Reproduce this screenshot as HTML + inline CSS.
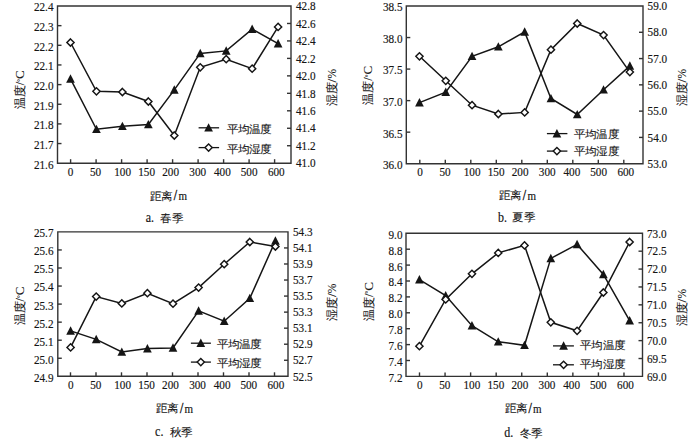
<!DOCTYPE html>
<html><head><meta charset="utf-8"><style>
html,body{margin:0;padding:0;background:#fff;}
body{width:700px;height:439px;overflow:hidden;}
svg{display:block;}
.t{font-family:"Liberation Serif", serif;font-size:11.2px;fill:#151515;stroke:#151515;stroke-width:0.15px;}
.c{font-family:"Liberation Serif", serif;font-size:11.6px;fill:#151515;stroke:#151515;stroke-width:0.1px;}
.u{font-size:12.5px;}
.l{font-size:11.8px;}
</style></head><body>
<svg width="700" height="439" viewBox="0 0 700 439">
<path d="M57.5,6 L291,6 L291,163.2 L57.5,163.2 Z" fill="none" stroke="#333" stroke-width="1.4"/>
<text transform="translate(53.50,168.60) scale(1,1.15)" text-anchor="end" class="t">21.6</text>
<line x1="57.5" y1="143.55" x2="61.5" y2="143.55" stroke="#333" stroke-width="1.4"/>
<text transform="translate(53.50,148.95) scale(1,1.15)" text-anchor="end" class="t">21.7</text>
<line x1="57.5" y1="123.90" x2="61.5" y2="123.90" stroke="#333" stroke-width="1.4"/>
<text transform="translate(53.50,129.30) scale(1,1.15)" text-anchor="end" class="t">21.8</text>
<line x1="57.5" y1="104.25" x2="61.5" y2="104.25" stroke="#333" stroke-width="1.4"/>
<text transform="translate(53.50,109.65) scale(1,1.15)" text-anchor="end" class="t">21.9</text>
<line x1="57.5" y1="84.60" x2="61.5" y2="84.60" stroke="#333" stroke-width="1.4"/>
<text transform="translate(53.50,90.00) scale(1,1.15)" text-anchor="end" class="t">22.0</text>
<line x1="57.5" y1="64.95" x2="61.5" y2="64.95" stroke="#333" stroke-width="1.4"/>
<text transform="translate(53.50,70.35) scale(1,1.15)" text-anchor="end" class="t">22.1</text>
<line x1="57.5" y1="45.30" x2="61.5" y2="45.30" stroke="#333" stroke-width="1.4"/>
<text transform="translate(53.50,50.70) scale(1,1.15)" text-anchor="end" class="t">22.2</text>
<line x1="57.5" y1="25.65" x2="61.5" y2="25.65" stroke="#333" stroke-width="1.4"/>
<text transform="translate(53.50,31.05) scale(1,1.15)" text-anchor="end" class="t">22.3</text>
<text transform="translate(53.50,11.40) scale(1,1.15)" text-anchor="end" class="t">22.4</text>
<text transform="translate(296.00,167.40) scale(1,1.15)" class="t">41.0</text>
<line x1="287" y1="145.73" x2="291" y2="145.73" stroke="#333" stroke-width="1.4"/>
<text transform="translate(296.00,149.93) scale(1,1.15)" class="t">41.2</text>
<line x1="287" y1="128.27" x2="291" y2="128.27" stroke="#333" stroke-width="1.4"/>
<text transform="translate(296.00,132.47) scale(1,1.15)" class="t">41.4</text>
<line x1="287" y1="110.80" x2="291" y2="110.80" stroke="#333" stroke-width="1.4"/>
<text transform="translate(296.00,115.00) scale(1,1.15)" class="t">41.6</text>
<line x1="287" y1="93.33" x2="291" y2="93.33" stroke="#333" stroke-width="1.4"/>
<text transform="translate(296.00,97.53) scale(1,1.15)" class="t">41.8</text>
<line x1="287" y1="75.87" x2="291" y2="75.87" stroke="#333" stroke-width="1.4"/>
<text transform="translate(296.00,80.07) scale(1,1.15)" class="t">42.0</text>
<line x1="287" y1="58.40" x2="291" y2="58.40" stroke="#333" stroke-width="1.4"/>
<text transform="translate(296.00,62.60) scale(1,1.15)" class="t">42.2</text>
<line x1="287" y1="40.93" x2="291" y2="40.93" stroke="#333" stroke-width="1.4"/>
<text transform="translate(296.00,45.13) scale(1,1.15)" class="t">42.4</text>
<line x1="287" y1="23.47" x2="291" y2="23.47" stroke="#333" stroke-width="1.4"/>
<text transform="translate(296.00,27.67) scale(1,1.15)" class="t">42.6</text>
<text transform="translate(296.00,10.20) scale(1,1.15)" class="t">42.8</text>
<line x1="70.60" y1="163.2" x2="70.60" y2="159.2" stroke="#333" stroke-width="1.4"/>
<line x1="96.10" y1="163.2" x2="96.10" y2="159.2" stroke="#333" stroke-width="1.4"/>
<line x1="121.60" y1="163.2" x2="121.60" y2="159.2" stroke="#333" stroke-width="1.4"/>
<line x1="147.10" y1="163.2" x2="147.10" y2="159.2" stroke="#333" stroke-width="1.4"/>
<line x1="172.60" y1="163.2" x2="172.60" y2="159.2" stroke="#333" stroke-width="1.4"/>
<line x1="198.10" y1="163.2" x2="198.10" y2="159.2" stroke="#333" stroke-width="1.4"/>
<line x1="223.60" y1="163.2" x2="223.60" y2="159.2" stroke="#333" stroke-width="1.4"/>
<line x1="249.10" y1="163.2" x2="249.10" y2="159.2" stroke="#333" stroke-width="1.4"/>
<line x1="274.60" y1="163.2" x2="274.60" y2="159.2" stroke="#333" stroke-width="1.4"/>
<text transform="translate(70.50,175.70) scale(1,1.15)" text-anchor="middle" class="t">0</text>
<text transform="translate(95.60,175.70) scale(1,1.15)" text-anchor="middle" class="t">50</text>
<text transform="translate(122.60,175.70) scale(1,1.15)" text-anchor="middle" class="t">100</text>
<text transform="translate(146.60,175.70) scale(1,1.15)" text-anchor="middle" class="t">150</text>
<text transform="translate(170.60,175.70) scale(1,1.15)" text-anchor="middle" class="t">200</text>
<text transform="translate(197.70,175.70) scale(1,1.15)" text-anchor="middle" class="t">300</text>
<text transform="translate(222.40,175.70) scale(1,1.15)" text-anchor="middle" class="t">400</text>
<text transform="translate(249.10,175.70) scale(1,1.15)" text-anchor="middle" class="t">500</text>
<text transform="translate(276.30,175.70) scale(1,1.15)" text-anchor="middle" class="t">600</text>
<polyline points="70.50,78.90 96.45,129.30 122.40,126.30 148.35,124.50 174.30,89.90 200.25,53.40 226.20,50.90 252.15,29.20 278.10,43.70" fill="none" stroke="#151515" stroke-width="1.5" stroke-linejoin="miter"/>
<polyline points="70.50,42.50 96.45,91.30 122.40,92.00 148.35,101.50 174.30,135.50 200.25,67.30 226.20,59.20 252.15,68.70 278.10,26.90" fill="none" stroke="#151515" stroke-width="1.5" stroke-linejoin="miter"/>
<path d="M66.15,82.70 L70.50,74.30 L74.85,82.70 Z" fill="#151515"/>
<path d="M92.10,133.10 L96.45,124.70 L100.80,133.10 Z" fill="#151515"/>
<path d="M118.05,130.10 L122.40,121.70 L126.75,130.10 Z" fill="#151515"/>
<path d="M144.00,128.30 L148.35,119.90 L152.70,128.30 Z" fill="#151515"/>
<path d="M169.95,93.70 L174.30,85.30 L178.65,93.70 Z" fill="#151515"/>
<path d="M195.90,57.20 L200.25,48.80 L204.60,57.20 Z" fill="#151515"/>
<path d="M221.85,54.70 L226.20,46.30 L230.55,54.70 Z" fill="#151515"/>
<path d="M247.80,33.00 L252.15,24.60 L256.50,33.00 Z" fill="#151515"/>
<path d="M273.75,47.50 L278.10,39.10 L282.45,47.50 Z" fill="#151515"/>
<path d="M70.50,38.90 L74.10,42.50 L70.50,46.10 L66.90,42.50 Z" fill="#fff" stroke="#151515" stroke-width="1.45"/>
<path d="M96.45,87.70 L100.05,91.30 L96.45,94.90 L92.85,91.30 Z" fill="#fff" stroke="#151515" stroke-width="1.45"/>
<path d="M122.40,88.40 L126.00,92.00 L122.40,95.60 L118.80,92.00 Z" fill="#fff" stroke="#151515" stroke-width="1.45"/>
<path d="M148.35,97.90 L151.95,101.50 L148.35,105.10 L144.75,101.50 Z" fill="#fff" stroke="#151515" stroke-width="1.45"/>
<path d="M174.30,131.90 L177.90,135.50 L174.30,139.10 L170.70,135.50 Z" fill="#fff" stroke="#151515" stroke-width="1.45"/>
<path d="M200.25,63.70 L203.85,67.30 L200.25,70.90 L196.65,67.30 Z" fill="#fff" stroke="#151515" stroke-width="1.45"/>
<path d="M226.20,55.60 L229.80,59.20 L226.20,62.80 L222.60,59.20 Z" fill="#fff" stroke="#151515" stroke-width="1.45"/>
<path d="M252.15,65.10 L255.75,68.70 L252.15,72.30 L248.55,68.70 Z" fill="#fff" stroke="#151515" stroke-width="1.45"/>
<path d="M278.10,23.30 L281.70,26.90 L278.10,30.50 L274.50,26.90 Z" fill="#fff" stroke="#151515" stroke-width="1.45"/>
<line x1="198.6" y1="127.8" x2="219.1" y2="127.8" stroke="#151515" stroke-width="1.3"/>
<path d="M204.25,131.60 L208.60,123.20 L212.95,131.60 Z" fill="#151515"/>
<line x1="198.6" y1="147.6" x2="219.1" y2="147.6" stroke="#151515" stroke-width="1.3"/>
<path d="M208.60,144.00 L212.20,147.60 L208.60,151.20 L205.00,147.60 Z" fill="#fff" stroke="#151515" stroke-width="1.45"/>
<text transform="translate(226.50,132.97) scale(1,0.95)" class="c">平均温度</text>
<text transform="translate(226.50,152.58) scale(1,0.95)" class="c">平均湿度</text>
<text transform="translate(24.2,89.8) rotate(-90)" text-anchor="middle" class="c">温度<tspan class="u">/</tspan><tspan class="u" style="font-size:7px" dy="-2.5">°</tspan><tspan class="u" style="font-size:13px" dy="2.5">C</tspan></text>
<text transform="translate(336.1,87.7) rotate(-90)" text-anchor="middle" class="c">湿度<tspan class="u" style="font-size:13.5px">/</tspan><tspan class="u" style="font-size:11.5px">%</tspan></text>
<text transform="translate(149.80,199.53) scale(1,0.95)" class="c">距离</text>
<text transform="translate(173.70,199.95) scale(1,1.15)" class="t" style="font-size:12px;stroke-width:0.35px">/</text>
<text transform="translate(178.40,199.95) scale(1,1.15)" class="t" style="font-size:11px">m</text>
<text transform="translate(145.80,221.95) scale(1,1.15)" class="t" style="font-size:12px">a.</text>
<text transform="translate(160.40,221.53) scale(1,0.95)" class="c">春季</text>
<path d="M406.3,6 L643,6 L643,163.7 L406.3,163.7 Z" fill="none" stroke="#333" stroke-width="1.4"/>
<text transform="translate(402.50,169.10) scale(1,1.15)" text-anchor="end" class="t">36.0</text>
<line x1="406.3" y1="132.16" x2="410.3" y2="132.16" stroke="#333" stroke-width="1.4"/>
<text transform="translate(402.50,137.56) scale(1,1.15)" text-anchor="end" class="t">36.5</text>
<line x1="406.3" y1="100.62" x2="410.3" y2="100.62" stroke="#333" stroke-width="1.4"/>
<text transform="translate(402.50,106.02) scale(1,1.15)" text-anchor="end" class="t">37.0</text>
<line x1="406.3" y1="69.08" x2="410.3" y2="69.08" stroke="#333" stroke-width="1.4"/>
<text transform="translate(402.50,74.48) scale(1,1.15)" text-anchor="end" class="t">37.5</text>
<line x1="406.3" y1="37.54" x2="410.3" y2="37.54" stroke="#333" stroke-width="1.4"/>
<text transform="translate(402.50,42.94) scale(1,1.15)" text-anchor="end" class="t">38.0</text>
<text transform="translate(402.50,11.40) scale(1,1.15)" text-anchor="end" class="t">38.5</text>
<text transform="translate(647.60,167.90) scale(1,1.15)" class="t">53.0</text>
<line x1="639" y1="137.42" x2="643" y2="137.42" stroke="#333" stroke-width="1.4"/>
<text transform="translate(647.60,141.62) scale(1,1.15)" class="t">54.0</text>
<line x1="639" y1="111.13" x2="643" y2="111.13" stroke="#333" stroke-width="1.4"/>
<text transform="translate(647.60,115.33) scale(1,1.15)" class="t">55.0</text>
<line x1="639" y1="84.85" x2="643" y2="84.85" stroke="#333" stroke-width="1.4"/>
<text transform="translate(647.60,89.05) scale(1,1.15)" class="t">56.0</text>
<line x1="639" y1="58.57" x2="643" y2="58.57" stroke="#333" stroke-width="1.4"/>
<text transform="translate(647.60,62.77) scale(1,1.15)" class="t">57.0</text>
<line x1="639" y1="32.28" x2="643" y2="32.28" stroke="#333" stroke-width="1.4"/>
<text transform="translate(647.60,36.48) scale(1,1.15)" class="t">58.0</text>
<text transform="translate(647.60,10.20) scale(1,1.15)" class="t">59.0</text>
<line x1="419.80" y1="163.7" x2="419.80" y2="159.7" stroke="#333" stroke-width="1.4"/>
<line x1="445.30" y1="163.7" x2="445.30" y2="159.7" stroke="#333" stroke-width="1.4"/>
<line x1="470.80" y1="163.7" x2="470.80" y2="159.7" stroke="#333" stroke-width="1.4"/>
<line x1="496.30" y1="163.7" x2="496.30" y2="159.7" stroke="#333" stroke-width="1.4"/>
<line x1="521.80" y1="163.7" x2="521.80" y2="159.7" stroke="#333" stroke-width="1.4"/>
<line x1="547.30" y1="163.7" x2="547.30" y2="159.7" stroke="#333" stroke-width="1.4"/>
<line x1="572.80" y1="163.7" x2="572.80" y2="159.7" stroke="#333" stroke-width="1.4"/>
<line x1="598.30" y1="163.7" x2="598.30" y2="159.7" stroke="#333" stroke-width="1.4"/>
<line x1="623.80" y1="163.7" x2="623.80" y2="159.7" stroke="#333" stroke-width="1.4"/>
<text transform="translate(420.00,176.20) scale(1,1.15)" text-anchor="middle" class="t">0</text>
<text transform="translate(445.10,176.20) scale(1,1.15)" text-anchor="middle" class="t">50</text>
<text transform="translate(472.10,176.20) scale(1,1.15)" text-anchor="middle" class="t">100</text>
<text transform="translate(496.10,176.20) scale(1,1.15)" text-anchor="middle" class="t">150</text>
<text transform="translate(520.10,176.20) scale(1,1.15)" text-anchor="middle" class="t">200</text>
<text transform="translate(547.20,176.20) scale(1,1.15)" text-anchor="middle" class="t">300</text>
<text transform="translate(571.90,176.20) scale(1,1.15)" text-anchor="middle" class="t">400</text>
<text transform="translate(598.60,176.20) scale(1,1.15)" text-anchor="middle" class="t">500</text>
<text transform="translate(625.80,176.20) scale(1,1.15)" text-anchor="middle" class="t">600</text>
<polyline points="419.45,102.60 445.75,92.10 472.05,56.30 498.35,46.80 524.65,31.90 550.95,98.50 577.25,114.50 603.55,89.80 629.85,65.90" fill="none" stroke="#151515" stroke-width="1.5" stroke-linejoin="miter"/>
<polyline points="419.45,56.30 445.75,80.80 472.05,105.20 498.35,114.00 524.65,112.40 550.95,49.70 577.25,23.50 603.55,35.10 629.85,72.10" fill="none" stroke="#151515" stroke-width="1.5" stroke-linejoin="miter"/>
<path d="M415.10,106.40 L419.45,98.00 L423.80,106.40 Z" fill="#151515"/>
<path d="M441.40,95.90 L445.75,87.50 L450.10,95.90 Z" fill="#151515"/>
<path d="M467.70,60.10 L472.05,51.70 L476.40,60.10 Z" fill="#151515"/>
<path d="M494.00,50.60 L498.35,42.20 L502.70,50.60 Z" fill="#151515"/>
<path d="M520.30,35.70 L524.65,27.30 L529.00,35.70 Z" fill="#151515"/>
<path d="M546.60,102.30 L550.95,93.90 L555.30,102.30 Z" fill="#151515"/>
<path d="M572.90,118.30 L577.25,109.90 L581.60,118.30 Z" fill="#151515"/>
<path d="M599.20,93.60 L603.55,85.20 L607.90,93.60 Z" fill="#151515"/>
<path d="M625.50,69.70 L629.85,61.30 L634.20,69.70 Z" fill="#151515"/>
<path d="M419.45,52.70 L423.05,56.30 L419.45,59.90 L415.85,56.30 Z" fill="#fff" stroke="#151515" stroke-width="1.45"/>
<path d="M445.75,77.20 L449.35,80.80 L445.75,84.40 L442.15,80.80 Z" fill="#fff" stroke="#151515" stroke-width="1.45"/>
<path d="M472.05,101.60 L475.65,105.20 L472.05,108.80 L468.45,105.20 Z" fill="#fff" stroke="#151515" stroke-width="1.45"/>
<path d="M498.35,110.40 L501.95,114.00 L498.35,117.60 L494.75,114.00 Z" fill="#fff" stroke="#151515" stroke-width="1.45"/>
<path d="M524.65,108.80 L528.25,112.40 L524.65,116.00 L521.05,112.40 Z" fill="#fff" stroke="#151515" stroke-width="1.45"/>
<path d="M550.95,46.10 L554.55,49.70 L550.95,53.30 L547.35,49.70 Z" fill="#fff" stroke="#151515" stroke-width="1.45"/>
<path d="M577.25,19.90 L580.85,23.50 L577.25,27.10 L573.65,23.50 Z" fill="#fff" stroke="#151515" stroke-width="1.45"/>
<path d="M603.55,31.50 L607.15,35.10 L603.55,38.70 L599.95,35.10 Z" fill="#fff" stroke="#151515" stroke-width="1.45"/>
<path d="M629.85,68.50 L633.45,72.10 L629.85,75.70 L626.25,72.10 Z" fill="#fff" stroke="#151515" stroke-width="1.45"/>
<line x1="546.9" y1="133.6" x2="567.4" y2="133.6" stroke="#151515" stroke-width="1.3"/>
<path d="M552.55,137.40 L556.90,129.00 L561.25,137.40 Z" fill="#151515"/>
<line x1="546.9" y1="151.1" x2="567.4" y2="151.1" stroke="#151515" stroke-width="1.3"/>
<path d="M556.90,147.50 L560.50,151.10 L556.90,154.70 L553.30,151.10 Z" fill="#fff" stroke="#151515" stroke-width="1.45"/>
<text transform="translate(573.80,137.62) scale(1,0.95)" class="c">平均温度</text>
<text transform="translate(573.80,154.93) scale(1,0.95)" class="c">平均湿度</text>
<text transform="translate(372.0,85.2) rotate(-90)" text-anchor="middle" class="c">温度<tspan class="u">/</tspan><tspan class="u" style="font-size:7px" dy="-2.5">°</tspan><tspan class="u" style="font-size:13px" dy="2.5">C</tspan></text>
<text transform="translate(686.3,87.7) rotate(-90)" text-anchor="middle" class="c">湿度<tspan class="u" style="font-size:13.5px">/</tspan><tspan class="u" style="font-size:11.5px">%</tspan></text>
<text transform="translate(498.80,199.43) scale(1,0.95)" class="c">距离</text>
<text transform="translate(522.70,199.85) scale(1,1.15)" class="t" style="font-size:12px;stroke-width:0.35px">/</text>
<text transform="translate(527.40,199.85) scale(1,1.15)" class="t" style="font-size:11px">m</text>
<text transform="translate(497.90,221.60) scale(1,1.15)" class="t" style="font-size:12px">b.</text>
<text transform="translate(512.40,221.18) scale(1,0.95)" class="c">夏季</text>
<path d="M57.8,231.9 L288,231.9 L288,376.3 L57.8,376.3 Z" fill="none" stroke="#333" stroke-width="1.4"/>
<text transform="translate(53.50,381.70) scale(1,1.15)" text-anchor="end" class="t">24.9</text>
<line x1="57.8" y1="358.25" x2="61.8" y2="358.25" stroke="#333" stroke-width="1.4"/>
<text transform="translate(53.50,363.65) scale(1,1.15)" text-anchor="end" class="t">25.0</text>
<line x1="57.8" y1="340.20" x2="61.8" y2="340.20" stroke="#333" stroke-width="1.4"/>
<text transform="translate(53.50,345.60) scale(1,1.15)" text-anchor="end" class="t">25.1</text>
<line x1="57.8" y1="322.15" x2="61.8" y2="322.15" stroke="#333" stroke-width="1.4"/>
<text transform="translate(53.50,327.55) scale(1,1.15)" text-anchor="end" class="t">25.2</text>
<line x1="57.8" y1="304.10" x2="61.8" y2="304.10" stroke="#333" stroke-width="1.4"/>
<text transform="translate(53.50,309.50) scale(1,1.15)" text-anchor="end" class="t">25.3</text>
<line x1="57.8" y1="286.05" x2="61.8" y2="286.05" stroke="#333" stroke-width="1.4"/>
<text transform="translate(53.50,291.45) scale(1,1.15)" text-anchor="end" class="t">25.4</text>
<line x1="57.8" y1="268.00" x2="61.8" y2="268.00" stroke="#333" stroke-width="1.4"/>
<text transform="translate(53.50,273.40) scale(1,1.15)" text-anchor="end" class="t">25.5</text>
<line x1="57.8" y1="249.95" x2="61.8" y2="249.95" stroke="#333" stroke-width="1.4"/>
<text transform="translate(53.50,255.35) scale(1,1.15)" text-anchor="end" class="t">25.6</text>
<text transform="translate(53.50,237.30) scale(1,1.15)" text-anchor="end" class="t">25.7</text>
<text transform="translate(293.00,380.50) scale(1,1.15)" class="t">52.5</text>
<line x1="284" y1="360.26" x2="288" y2="360.26" stroke="#333" stroke-width="1.4"/>
<text transform="translate(293.00,364.46) scale(1,1.15)" class="t">52.7</text>
<line x1="284" y1="344.21" x2="288" y2="344.21" stroke="#333" stroke-width="1.4"/>
<text transform="translate(293.00,348.41) scale(1,1.15)" class="t">52.9</text>
<line x1="284" y1="328.17" x2="288" y2="328.17" stroke="#333" stroke-width="1.4"/>
<text transform="translate(293.00,332.37) scale(1,1.15)" class="t">53.1</text>
<line x1="284" y1="312.12" x2="288" y2="312.12" stroke="#333" stroke-width="1.4"/>
<text transform="translate(293.00,316.32) scale(1,1.15)" class="t">53.3</text>
<line x1="284" y1="296.08" x2="288" y2="296.08" stroke="#333" stroke-width="1.4"/>
<text transform="translate(293.00,300.28) scale(1,1.15)" class="t">53.5</text>
<line x1="284" y1="280.03" x2="288" y2="280.03" stroke="#333" stroke-width="1.4"/>
<text transform="translate(293.00,284.23) scale(1,1.15)" class="t">53.7</text>
<line x1="284" y1="263.99" x2="288" y2="263.99" stroke="#333" stroke-width="1.4"/>
<text transform="translate(293.00,268.19) scale(1,1.15)" class="t">53.9</text>
<line x1="284" y1="247.94" x2="288" y2="247.94" stroke="#333" stroke-width="1.4"/>
<text transform="translate(293.00,252.14) scale(1,1.15)" class="t">54.1</text>
<text transform="translate(293.00,236.10) scale(1,1.15)" class="t">54.3</text>
<line x1="70.50" y1="376.3" x2="70.50" y2="372.3" stroke="#333" stroke-width="1.4"/>
<line x1="96.00" y1="376.3" x2="96.00" y2="372.3" stroke="#333" stroke-width="1.4"/>
<line x1="121.50" y1="376.3" x2="121.50" y2="372.3" stroke="#333" stroke-width="1.4"/>
<line x1="147.00" y1="376.3" x2="147.00" y2="372.3" stroke="#333" stroke-width="1.4"/>
<line x1="172.50" y1="376.3" x2="172.50" y2="372.3" stroke="#333" stroke-width="1.4"/>
<line x1="198.00" y1="376.3" x2="198.00" y2="372.3" stroke="#333" stroke-width="1.4"/>
<line x1="223.50" y1="376.3" x2="223.50" y2="372.3" stroke="#333" stroke-width="1.4"/>
<line x1="249.00" y1="376.3" x2="249.00" y2="372.3" stroke="#333" stroke-width="1.4"/>
<line x1="274.50" y1="376.3" x2="274.50" y2="372.3" stroke="#333" stroke-width="1.4"/>
<text transform="translate(70.70,388.80) scale(1,1.15)" text-anchor="middle" class="t">0</text>
<text transform="translate(95.72,388.80) scale(1,1.15)" text-anchor="middle" class="t">50</text>
<text transform="translate(122.65,388.80) scale(1,1.15)" text-anchor="middle" class="t">100</text>
<text transform="translate(146.57,388.80) scale(1,1.15)" text-anchor="middle" class="t">150</text>
<text transform="translate(170.50,388.80) scale(1,1.15)" text-anchor="middle" class="t">200</text>
<text transform="translate(197.52,388.80) scale(1,1.15)" text-anchor="middle" class="t">300</text>
<text transform="translate(222.15,388.80) scale(1,1.15)" text-anchor="middle" class="t">400</text>
<text transform="translate(248.77,388.80) scale(1,1.15)" text-anchor="middle" class="t">500</text>
<text transform="translate(275.90,388.80) scale(1,1.15)" text-anchor="middle" class="t">600</text>
<polyline points="70.60,330.90 96.20,339.40 121.80,352.00 147.40,348.60 173.00,347.90 198.60,310.90 224.20,321.20 249.80,298.30 275.40,240.90" fill="none" stroke="#151515" stroke-width="1.5" stroke-linejoin="miter"/>
<polyline points="70.60,347.40 96.20,296.60 121.80,303.40 147.40,293.20 173.00,303.70 198.60,287.60 224.20,264.20 249.80,242.00 275.40,246.50" fill="none" stroke="#151515" stroke-width="1.5" stroke-linejoin="miter"/>
<path d="M66.25,334.70 L70.60,326.30 L74.95,334.70 Z" fill="#151515"/>
<path d="M91.85,343.20 L96.20,334.80 L100.55,343.20 Z" fill="#151515"/>
<path d="M117.45,355.80 L121.80,347.40 L126.15,355.80 Z" fill="#151515"/>
<path d="M143.05,352.40 L147.40,344.00 L151.75,352.40 Z" fill="#151515"/>
<path d="M168.65,351.70 L173.00,343.30 L177.35,351.70 Z" fill="#151515"/>
<path d="M194.25,314.70 L198.60,306.30 L202.95,314.70 Z" fill="#151515"/>
<path d="M219.85,325.00 L224.20,316.60 L228.55,325.00 Z" fill="#151515"/>
<path d="M245.45,302.10 L249.80,293.70 L254.15,302.10 Z" fill="#151515"/>
<path d="M271.05,244.70 L275.40,236.30 L279.75,244.70 Z" fill="#151515"/>
<path d="M70.60,343.80 L74.20,347.40 L70.60,351.00 L67.00,347.40 Z" fill="#fff" stroke="#151515" stroke-width="1.45"/>
<path d="M96.20,293.00 L99.80,296.60 L96.20,300.20 L92.60,296.60 Z" fill="#fff" stroke="#151515" stroke-width="1.45"/>
<path d="M121.80,299.80 L125.40,303.40 L121.80,307.00 L118.20,303.40 Z" fill="#fff" stroke="#151515" stroke-width="1.45"/>
<path d="M147.40,289.60 L151.00,293.20 L147.40,296.80 L143.80,293.20 Z" fill="#fff" stroke="#151515" stroke-width="1.45"/>
<path d="M173.00,300.10 L176.60,303.70 L173.00,307.30 L169.40,303.70 Z" fill="#fff" stroke="#151515" stroke-width="1.45"/>
<path d="M198.60,284.00 L202.20,287.60 L198.60,291.20 L195.00,287.60 Z" fill="#fff" stroke="#151515" stroke-width="1.45"/>
<path d="M224.20,260.60 L227.80,264.20 L224.20,267.80 L220.60,264.20 Z" fill="#fff" stroke="#151515" stroke-width="1.45"/>
<path d="M249.80,238.40 L253.40,242.00 L249.80,245.60 L246.20,242.00 Z" fill="#fff" stroke="#151515" stroke-width="1.45"/>
<path d="M275.40,242.90 L279.00,246.50 L275.40,250.10 L271.80,246.50 Z" fill="#fff" stroke="#151515" stroke-width="1.45"/>
<line x1="190.9" y1="343.2" x2="210.9" y2="343.2" stroke="#151515" stroke-width="1.3"/>
<path d="M196.45,347.00 L200.80,338.60 L205.15,347.00 Z" fill="#151515"/>
<line x1="190.9" y1="362.1" x2="210.9" y2="362.1" stroke="#151515" stroke-width="1.3"/>
<path d="M200.80,358.50 L204.40,362.10 L200.80,365.70 L197.20,362.10 Z" fill="#fff" stroke="#151515" stroke-width="1.45"/>
<text transform="translate(216.50,348.07) scale(1,0.95)" class="c">平均温度</text>
<text transform="translate(216.50,366.78) scale(1,0.95)" class="c">平均湿度</text>
<text transform="translate(24.2,306) rotate(-90)" text-anchor="middle" class="c">温度<tspan class="u">/</tspan><tspan class="u" style="font-size:7px" dy="-2.5">°</tspan><tspan class="u" style="font-size:13px" dy="2.5">C</tspan></text>
<text transform="translate(335.9,302.3) rotate(-90)" text-anchor="middle" class="c">湿度<tspan class="u" style="font-size:13.5px">/</tspan><tspan class="u" style="font-size:11.5px">%</tspan></text>
<text transform="translate(156.00,412.32) scale(1,0.95)" class="c">距离</text>
<text transform="translate(179.90,412.75) scale(1,1.15)" class="t" style="font-size:12px;stroke-width:0.35px">/</text>
<text transform="translate(184.60,412.75) scale(1,1.15)" class="t" style="font-size:11px">m</text>
<text transform="translate(155.10,436.45) scale(1,1.15)" class="t" style="font-size:12px">c.</text>
<text transform="translate(169.50,436.02) scale(1,0.95)" class="c">秋季</text>
<path d="M406,233.3 L642.5,233.3 L642.5,376.4 L406,376.4 Z" fill="none" stroke="#333" stroke-width="1.4"/>
<text transform="translate(402.50,381.80) scale(1,1.15)" text-anchor="end" class="t">7.2</text>
<line x1="406" y1="360.50" x2="410" y2="360.50" stroke="#333" stroke-width="1.4"/>
<text transform="translate(402.50,365.90) scale(1,1.15)" text-anchor="end" class="t">7.4</text>
<line x1="406" y1="344.60" x2="410" y2="344.60" stroke="#333" stroke-width="1.4"/>
<text transform="translate(402.50,350.00) scale(1,1.15)" text-anchor="end" class="t">7.6</text>
<line x1="406" y1="328.70" x2="410" y2="328.70" stroke="#333" stroke-width="1.4"/>
<text transform="translate(402.50,334.10) scale(1,1.15)" text-anchor="end" class="t">7.8</text>
<line x1="406" y1="312.80" x2="410" y2="312.80" stroke="#333" stroke-width="1.4"/>
<text transform="translate(402.50,318.20) scale(1,1.15)" text-anchor="end" class="t">8.0</text>
<line x1="406" y1="296.90" x2="410" y2="296.90" stroke="#333" stroke-width="1.4"/>
<text transform="translate(402.50,302.30) scale(1,1.15)" text-anchor="end" class="t">8.2</text>
<line x1="406" y1="281.00" x2="410" y2="281.00" stroke="#333" stroke-width="1.4"/>
<text transform="translate(402.50,286.40) scale(1,1.15)" text-anchor="end" class="t">8.4</text>
<line x1="406" y1="265.10" x2="410" y2="265.10" stroke="#333" stroke-width="1.4"/>
<text transform="translate(402.50,270.50) scale(1,1.15)" text-anchor="end" class="t">8.6</text>
<line x1="406" y1="249.20" x2="410" y2="249.20" stroke="#333" stroke-width="1.4"/>
<text transform="translate(402.50,254.60) scale(1,1.15)" text-anchor="end" class="t">8.8</text>
<text transform="translate(402.50,238.70) scale(1,1.15)" text-anchor="end" class="t">9.0</text>
<text transform="translate(647.00,380.60) scale(1,1.15)" class="t">69.0</text>
<line x1="638.5" y1="358.51" x2="642.5" y2="358.51" stroke="#333" stroke-width="1.4"/>
<text transform="translate(647.00,362.71) scale(1,1.15)" class="t">69.5</text>
<line x1="638.5" y1="340.62" x2="642.5" y2="340.62" stroke="#333" stroke-width="1.4"/>
<text transform="translate(647.00,344.82) scale(1,1.15)" class="t">70.0</text>
<line x1="638.5" y1="322.74" x2="642.5" y2="322.74" stroke="#333" stroke-width="1.4"/>
<text transform="translate(647.00,326.94) scale(1,1.15)" class="t">70.5</text>
<line x1="638.5" y1="304.85" x2="642.5" y2="304.85" stroke="#333" stroke-width="1.4"/>
<text transform="translate(647.00,309.05) scale(1,1.15)" class="t">71.0</text>
<line x1="638.5" y1="286.96" x2="642.5" y2="286.96" stroke="#333" stroke-width="1.4"/>
<text transform="translate(647.00,291.16) scale(1,1.15)" class="t">71.5</text>
<line x1="638.5" y1="269.07" x2="642.5" y2="269.07" stroke="#333" stroke-width="1.4"/>
<text transform="translate(647.00,273.27) scale(1,1.15)" class="t">72.0</text>
<line x1="638.5" y1="251.19" x2="642.5" y2="251.19" stroke="#333" stroke-width="1.4"/>
<text transform="translate(647.00,255.39) scale(1,1.15)" class="t">72.5</text>
<text transform="translate(647.00,237.50) scale(1,1.15)" class="t">73.0</text>
<line x1="419.50" y1="376.4" x2="419.50" y2="372.4" stroke="#333" stroke-width="1.4"/>
<line x1="445.06" y1="376.4" x2="445.06" y2="372.4" stroke="#333" stroke-width="1.4"/>
<line x1="470.62" y1="376.4" x2="470.62" y2="372.4" stroke="#333" stroke-width="1.4"/>
<line x1="496.18" y1="376.4" x2="496.18" y2="372.4" stroke="#333" stroke-width="1.4"/>
<line x1="521.74" y1="376.4" x2="521.74" y2="372.4" stroke="#333" stroke-width="1.4"/>
<line x1="547.30" y1="376.4" x2="547.30" y2="372.4" stroke="#333" stroke-width="1.4"/>
<line x1="572.86" y1="376.4" x2="572.86" y2="372.4" stroke="#333" stroke-width="1.4"/>
<line x1="598.42" y1="376.4" x2="598.42" y2="372.4" stroke="#333" stroke-width="1.4"/>
<line x1="623.98" y1="376.4" x2="623.98" y2="372.4" stroke="#333" stroke-width="1.4"/>
<text transform="translate(419.75,388.90) scale(1,1.15)" text-anchor="middle" class="t">0</text>
<text transform="translate(444.84,388.90) scale(1,1.15)" text-anchor="middle" class="t">50</text>
<text transform="translate(471.84,388.90) scale(1,1.15)" text-anchor="middle" class="t">100</text>
<text transform="translate(495.83,388.90) scale(1,1.15)" text-anchor="middle" class="t">150</text>
<text transform="translate(519.83,388.90) scale(1,1.15)" text-anchor="middle" class="t">200</text>
<text transform="translate(546.92,388.90) scale(1,1.15)" text-anchor="middle" class="t">300</text>
<text transform="translate(571.61,388.90) scale(1,1.15)" text-anchor="middle" class="t">400</text>
<text transform="translate(598.31,388.90) scale(1,1.15)" text-anchor="middle" class="t">500</text>
<text transform="translate(625.50,388.90) scale(1,1.15)" text-anchor="middle" class="t">600</text>
<polyline points="419.40,279.60 445.68,295.60 471.96,325.70 498.24,341.80 524.52,345.30 550.80,258.40 577.08,244.40 603.36,274.40 629.64,320.60" fill="none" stroke="#151515" stroke-width="1.5" stroke-linejoin="miter"/>
<polyline points="419.40,346.20 445.68,299.40 471.96,273.80 498.24,252.90 524.52,245.40 550.80,322.30 577.08,330.80 603.36,292.50 629.64,242.00" fill="none" stroke="#151515" stroke-width="1.5" stroke-linejoin="miter"/>
<path d="M415.05,283.40 L419.40,275.00 L423.75,283.40 Z" fill="#151515"/>
<path d="M441.33,299.40 L445.68,291.00 L450.03,299.40 Z" fill="#151515"/>
<path d="M467.61,329.50 L471.96,321.10 L476.31,329.50 Z" fill="#151515"/>
<path d="M493.89,345.60 L498.24,337.20 L502.59,345.60 Z" fill="#151515"/>
<path d="M520.17,349.10 L524.52,340.70 L528.87,349.10 Z" fill="#151515"/>
<path d="M546.45,262.20 L550.80,253.80 L555.15,262.20 Z" fill="#151515"/>
<path d="M572.73,248.20 L577.08,239.80 L581.43,248.20 Z" fill="#151515"/>
<path d="M599.01,278.20 L603.36,269.80 L607.71,278.20 Z" fill="#151515"/>
<path d="M625.29,324.40 L629.64,316.00 L633.99,324.40 Z" fill="#151515"/>
<path d="M419.40,342.60 L423.00,346.20 L419.40,349.80 L415.80,346.20 Z" fill="#fff" stroke="#151515" stroke-width="1.45"/>
<path d="M445.68,295.80 L449.28,299.40 L445.68,303.00 L442.08,299.40 Z" fill="#fff" stroke="#151515" stroke-width="1.45"/>
<path d="M471.96,270.20 L475.56,273.80 L471.96,277.40 L468.36,273.80 Z" fill="#fff" stroke="#151515" stroke-width="1.45"/>
<path d="M498.24,249.30 L501.84,252.90 L498.24,256.50 L494.64,252.90 Z" fill="#fff" stroke="#151515" stroke-width="1.45"/>
<path d="M524.52,241.80 L528.12,245.40 L524.52,249.00 L520.92,245.40 Z" fill="#fff" stroke="#151515" stroke-width="1.45"/>
<path d="M550.80,318.70 L554.40,322.30 L550.80,325.90 L547.20,322.30 Z" fill="#fff" stroke="#151515" stroke-width="1.45"/>
<path d="M577.08,327.20 L580.68,330.80 L577.08,334.40 L573.48,330.80 Z" fill="#fff" stroke="#151515" stroke-width="1.45"/>
<path d="M603.36,288.90 L606.96,292.50 L603.36,296.10 L599.76,292.50 Z" fill="#fff" stroke="#151515" stroke-width="1.45"/>
<path d="M629.64,238.40 L633.24,242.00 L629.64,245.60 L626.04,242.00 Z" fill="#fff" stroke="#151515" stroke-width="1.45"/>
<line x1="553" y1="345.9" x2="573.9" y2="345.9" stroke="#151515" stroke-width="1.3"/>
<path d="M559.25,349.70 L563.60,341.30 L567.95,349.70 Z" fill="#151515"/>
<line x1="553" y1="364.8" x2="573.9" y2="364.8" stroke="#151515" stroke-width="1.3"/>
<path d="M563.60,361.20 L567.20,364.80 L563.60,368.40 L560.00,364.80 Z" fill="#fff" stroke="#151515" stroke-width="1.45"/>
<text transform="translate(580.10,349.47) scale(1,0.95)" class="c">平均温度</text>
<text transform="translate(580.10,368.18) scale(1,0.95)" class="c">平均湿度</text>
<text transform="translate(372.8,301.6) rotate(-90)" text-anchor="middle" class="c">温度<tspan class="u">/</tspan><tspan class="u" style="font-size:7px" dy="-2.5">°</tspan><tspan class="u" style="font-size:13px" dy="2.5">C</tspan></text>
<text transform="translate(686.2,307.7) rotate(-90)" text-anchor="middle" class="c">湿度<tspan class="u" style="font-size:13.5px">/</tspan><tspan class="u" style="font-size:11.5px">%</tspan></text>
<text transform="translate(504.50,412.07) scale(1,0.95)" class="c">距离</text>
<text transform="translate(528.40,412.50) scale(1,1.15)" class="t" style="font-size:12px;stroke-width:0.35px">/</text>
<text transform="translate(533.10,412.50) scale(1,1.15)" class="t" style="font-size:11px">m</text>
<text transform="translate(504.30,436.95) scale(1,1.15)" class="t" style="font-size:12px">d.</text>
<text transform="translate(519.50,436.52) scale(1,0.95)" class="c">冬季</text>
</svg>
</body></html>
